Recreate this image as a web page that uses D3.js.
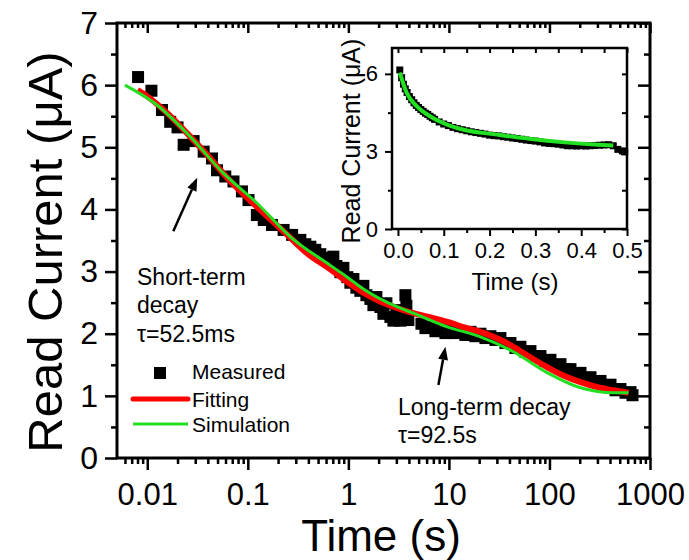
<!DOCTYPE html>
<html>
<head>
<meta charset="utf-8">
<script src="https://cdn.jsdelivr.net/npm/d3@7"></script>
<style>
  body { margin: 0; background: #fff; }
  svg text { font-family: "Liberation Sans", Arial, sans-serif; fill: #000; }
</style>
</head>
<body>
<div id="chart"></div>
<script>
// main panel, measured read current (time in s, current in uA)
var measuredT = [0.0081, 0.0110, 0.0140, 0.0169, 0.0200, 0.0230, 0.0289, 0.0364, 0.0440, 0.0494,
  0.0597, 0.0720, 0.0874, 0.1016, 0.123, 0.144, 0.174, 0.227, 0.276,
  0.333, 0.373, 0.419, 0.469, 0.526, 0.590, 0.662, 0.709, 0.760, 0.833,
  0.892, 0.977, 1.047, 1.122, 1.201, 1.316, 1.410, 1.511, 1.656, 1.774,
  1.900, 2.082, 2.230, 2.389, 2.618, 2.805, 3.004, 3.292, 3.526, 3.692, 3.777, 3.954,
  5.33, 5.84, 6.55, 7.34, 8.23, 9.23, 10.35, 11.61, 13.02, 14.60,
  16.37, 18.35, 20.58, 23.08, 25.88, 29.02, 32.54, 36.49, 40.92, 45.88,
  51.45, 57.70, 64.70, 72.55, 81.36, 91.24, 102.3, 114.7, 128.7, 144.3,
  161.8, 181.4, 203.5, 228.1, 255.9, 286.9, 321.7, 360.8, 404.6, 453.6,
  508.7, 570.5, 639.7, 669.9];
var measuredI = [6.13, 5.91, 5.60, 5.41, 5.32, 5.04, 5.10, 4.93, 4.82, 4.63,
  4.53, 4.45, 4.29, 4.15, 3.91, 3.83, 3.75, 3.67, 3.59,
  3.51, 3.44, 3.40, 3.35, 3.28, 3.22, 3.15, 3.24, 3.09, 2.99,
  3.06, 2.91, 2.82, 2.88, 2.74, 2.69, 2.77, 2.62, 2.56, 2.46,
  2.59, 2.43, 2.32, 2.49, 2.27, 2.21, 2.38, 2.21, 2.29, 2.62, 2.45, 2.22,
  2.16, 2.09, 2.11, 2.04, 2.08, 2.01, 2.06, 2.01, 2.04, 1.98,
  2.03, 1.96, 2.00, 1.93, 1.96, 1.90, 1.93, 1.85, 1.85, 1.77,
  1.79, 1.71, 1.72, 1.64, 1.64, 1.56, 1.58, 1.50, 1.51, 1.43,
  1.43, 1.35, 1.37, 1.29, 1.30, 1.22, 1.24, 1.16, 1.18, 1.09,
  1.11, 1.05, 1.06, 1.01];

// fitting curve (red)
var fitT = [0.008, 0.01, 0.0158, 0.0251, 0.0398, 0.0631, 0.1, 0.158, 0.251, 0.398,
  0.631, 1.0, 1.41, 2.0, 3.08, 4.43, 6.31, 9.66, 15.8, 20.6, 31.6,
  43.7, 63.1, 95.5, 141, 204, 316, 434, 611];
var fitI = [5.92, 5.82, 5.55, 5.22, 4.87, 4.50, 4.18, 3.88, 3.58, 3.28,
  3.06, 2.82, 2.66, 2.53, 2.41, 2.33, 2.27, 2.19, 2.08, 2.03, 1.91,
  1.79, 1.63, 1.46, 1.32, 1.22, 1.13, 1.09, 1.05];

// simulation curve (green)
var simT = [0.006, 0.0125, 0.0268, 0.0574, 0.1236, 0.265, 0.662, 0.977, 1.41, 3.07,
  4.43, 9.66, 20.6, 43.7, 95.5, 204, 300, 434, 611];
var simI = [6.00, 5.68, 5.17, 4.58, 4.10, 3.56, 3.10, 2.91, 2.72, 2.43,
  2.33, 2.11, 1.95, 1.71, 1.37, 1.13, 1.07, 1.05, 1.05];

// inset, linear time
var insetT = [0.004, 0.008, 0.012, 0.016, 0.02, 0.025, 0.03, 0.035, 0.04, 0.045,
  0.05, 0.055, 0.06, 0.065, 0.07, 0.075, 0.08, 0.09, 0.10, 0.11,
  0.12, 0.13, 0.14, 0.15, 0.16, 0.17, 0.18, 0.19, 0.20, 0.21,
  0.22, 0.23, 0.24, 0.25, 0.26, 0.27, 0.28, 0.29, 0.30, 0.31,
  0.32, 0.33, 0.34, 0.35, 0.36, 0.37, 0.38, 0.39, 0.40, 0.41,
  0.42, 0.43, 0.44, 0.45, 0.46, 0.47, 0.48, 0.49, 0.495];
var insetI = [6.15, 5.85, 5.60, 5.42, 5.28, 5.12, 5.00, 4.88, 4.78, 4.70,
  4.62, 4.55, 4.48, 4.43, 4.36, 4.30, 4.24, 4.14, 4.06, 4.00,
  3.93, 3.88, 3.84, 3.80, 3.76, 3.73, 3.70, 3.67, 3.63, 3.61,
  3.60, 3.57, 3.55, 3.52, 3.50, 3.47, 3.44, 3.42, 3.40, 3.37,
  3.33, 3.31, 3.30, 3.28, 3.25, 3.22, 3.22, 3.21, 3.22, 3.21,
  3.22, 3.23, 3.24, 3.25, 3.26, 3.22, 3.08, 3.02, 2.98];
var insetSimT = [0.004, 0.019, 0.041, 0.07, 0.107, 0.144, 0.217, 0.29, 0.364, 0.437, 0.47];
var insetSimI = [6.05, 5.27, 4.75, 4.36, 4.04, 3.84, 3.65, 3.48, 3.35, 3.26, 3.23];

// ticks
var majorX = [0.01, 0.1, 1, 10, 100, 1000];
var majorY = [0, 1, 2, 3, 4, 5, 6, 7];
var minorY = [0.5, 1.5, 2.5, 3.5, 4.5, 5.5, 6.5];
var insetMajorX = [0, 0.1, 0.2, 0.3, 0.4, 0.5];
var insetMinorX = [0.05, 0.15, 0.25, 0.35, 0.45];
var insetMajorY = [0, 3, 6];
var insetMinorY = [1.5, 4.5];

var red = "#ff0000", green = "#22e022";

var W = 689, H = 560;
var margin = { top: 23, right: 39, bottom: 102, left: 117 };
var width = W - margin.left - margin.right;
var height = H - margin.top - margin.bottom;

var svg = d3.select("#chart").append("svg")
  .attr("width", W)
  .attr("height", H);

var g = svg.append("g")
  .attr("transform", "translate(" + margin.left + "," + margin.top + ")");

var x = d3.scaleLog().domain([0.005, 1000]).range([0, width]);
var y = d3.scaleLinear().domain([0, 7]).range([height, 0]);

// log minor ticks
var minorX = [];
for (var d = -3; d <= 2; d++) {
  for (var k = 2; k <= 9; k++) {
    var v = k * Math.pow(10, d);
    if (v > 0.0051 && v < 1000) minorX.push(v);
  }
}

function tidy(sel, w) {
  sel.attr("font-family", null).attr("font-size", null);
  sel.select(".domain").remove();
  sel.selectAll("line").attr("stroke", "#000").attr("stroke-width", w);
}

// bottom axis
g.append("g")
  .attr("transform", "translate(0," + height + ")")
  .call(d3.axisBottom(x).tickValues(majorX).tickSize(12).tickPadding(13).tickFormat(d3.format("~g")))
  .call(tidy, 2.5)
  .selectAll("text").attr("font-size", 31);
g.append("g")
  .attr("transform", "translate(0," + height + ")")
  .call(d3.axisBottom(x).tickValues(minorX).tickSize(6).tickFormat(""))
  .call(tidy, 2.5);

// top axis, ticks inward
g.append("g")
  .call(d3.axisBottom(x).tickValues(majorX).tickSize(10).tickFormat(""))
  .call(tidy, 2.5);
g.append("g")
  .call(d3.axisBottom(x).tickValues(minorX).tickSize(5).tickFormat(""))
  .call(tidy, 2.5);

// left axis
g.append("g")
  .call(d3.axisLeft(y).tickValues(majorY).tickSize(12).tickPadding(7).tickFormat(d3.format("d")))
  .call(tidy, 2.5)
  .selectAll("text").attr("font-size", 32);
g.append("g")
  .call(d3.axisLeft(y).tickValues(minorY).tickSize(6).tickFormat(""))
  .call(tidy, 2.5);

// right axis, ticks inward
g.append("g")
  .attr("transform", "translate(" + width + ",0)")
  .call(d3.axisLeft(y).tickValues(majorY).tickSize(12).tickFormat(""))
  .call(tidy, 2.5);
g.append("g")
  .attr("transform", "translate(" + width + ",0)")
  .call(d3.axisLeft(y).tickValues(minorY).tickSize(6).tickFormat(""))
  .call(tidy, 2.5);

// measured squares
var measured = measuredT.map(function(t, i) { return [t, measuredI[i]]; });
g.append("g").selectAll("rect")
  .data(measured)
  .enter().append("rect")
  .attr("x", function(p) { return x(p[0]) - 6; })
  .attr("y", function(p) { return y(p[1]) - 6; })
  .attr("width", 12)
  .attr("height", 12)
  .attr("fill", "#000");

var line = d3.line()
  .curve(d3.curveMonotoneX)
  .x(function(p) { return x(p[0]); })
  .y(function(p) { return y(p[1]); });

g.append("path")
  .datum(fitT.map(function(t, i) { return [t, fitI[i]]; }))
  .attr("d", line)
  .attr("fill", "none")
  .attr("stroke", red)
  .attr("stroke-width", 6);

g.append("path")
  .datum(simT.map(function(t, i) { return [t, simI[i]]; }))
  .attr("d", line)
  .attr("fill", "none")
  .attr("stroke", green)
  .attr("stroke-width", 3);

// frame
g.append("rect")
  .attr("width", width)
  .attr("height", height)
  .attr("fill", "none")
  .attr("stroke", "#000")
  .attr("stroke-width", 3);

// axis titles
svg.append("text")
  .attr("transform", "translate(62,252) rotate(-90)")
  .attr("text-anchor", "middle")
  .attr("font-size", 49)
  .text("Read Current (\u03bcA)");

svg.append("text")
  .attr("x", 381)
  .attr("y", 551)
  .attr("text-anchor", "middle")
  .attr("font-size", 44)
  .text("Time (s)");

// annotations
function arrow(x1, y1, x2, y2) {
  var ang = Math.atan2(y2 - y1, x2 - x1);
  var len = 13, hw = 5;
  var bx = x2 - len * Math.cos(ang), by = y2 - len * Math.sin(ang);
  g.append("line")
    .attr("x1", x1).attr("y1", y1).attr("x2", bx).attr("y2", by)
    .attr("stroke", "#000").attr("stroke-width", 2.5);
  g.append("path")
    .attr("d", "M" + x2 + "," + y2 +
      "L" + (bx + hw * Math.sin(ang)) + "," + (by - hw * Math.cos(ang)) +
      "L" + (bx - hw * Math.sin(ang)) + "," + (by + hw * Math.cos(ang)) + "Z")
    .attr("fill", "#000");
}
arrow(x(0.01815), y(3.65), x(0.0314), y(4.51));
arrow(x(7.86), y(1.175), x(9.23), y(1.79));

var noteLeft = [["Short-term", 285], ["decay", 313], ["\u03c4=52.5ms", 342]];
noteLeft.forEach(function(n) {
  svg.append("text").attr("x", 137).attr("y", n[1]).attr("font-size", 23).text(n[0]);
});
var noteRight = [["Long-term decay", 415], ["\u03c4=92.5s", 443]];
noteRight.forEach(function(n) {
  svg.append("text").attr("x", 398).attr("y", n[1]).attr("font-size", 23).text(n[0]);
});

// legend
var lg = svg.append("g");
lg.append("rect").attr("x", 154).attr("y", 367).attr("width", 12).attr("height", 12).attr("fill", "#000");
lg.append("text").attr("x", 192).attr("y", 379).attr("font-size", 21).text("Measured");
lg.append("line").attr("x1", 133).attr("x2", 188).attr("y1", 399).attr("y2", 399)
  .attr("stroke", red).attr("stroke-width", 5).attr("stroke-linecap", "round");
lg.append("text").attr("x", 192).attr("y", 407).attr("font-size", 21).text("Fitting");
lg.append("line").attr("x1", 133).attr("x2", 188).attr("y1", 424).attr("y2", 424)
  .attr("stroke", green).attr("stroke-width", 3);
lg.append("text").attr("x", 192).attr("y", 432).attr("font-size", 21).text("Simulation");

// ---------------- inset ----------------
var inset = { left: 392, top: 48, width: 235, height: 181 };
var ig = svg.append("g")
  .attr("transform", "translate(" + inset.left + "," + inset.top + ")");
var ix = d3.scaleLinear().domain([-0.013, 0.5]).range([0, inset.width]);
var iy = d3.scaleLinear().domain([0, 7]).range([inset.height, 0]);

ig.append("rect").attr("width", inset.width).attr("height", inset.height).attr("fill", "#fff");

ig.append("g")
  .attr("transform", "translate(0," + inset.height + ")")
  .call(d3.axisBottom(ix).tickValues(insetMajorX).tickSize(7).tickPadding(6).tickFormat(d3.format(".1f")))
  .call(tidy, 2)
  .selectAll("text").attr("font-size", 22);
ig.append("g")
  .attr("transform", "translate(0," + inset.height + ")")
  .call(d3.axisBottom(ix).tickValues(insetMinorX).tickSize(4).tickFormat(""))
  .call(tidy, 2);
ig.append("g")
  .call(d3.axisBottom(ix).tickValues(insetMajorX.concat(insetMinorX)).tickSize(5).tickFormat(""))
  .call(tidy, 2);

ig.append("g")
  .call(d3.axisLeft(iy).tickValues(insetMajorY).tickSize(7).tickPadding(7).tickFormat(d3.format("d")))
  .call(tidy, 2)
  .selectAll("text").attr("font-size", 22);
ig.append("g")
  .call(d3.axisLeft(iy).tickValues(insetMinorY).tickSize(4).tickFormat(""))
  .call(tidy, 2);
ig.append("g")
  .attr("transform", "translate(" + inset.width + ",0)")
  .call(d3.axisLeft(iy).tickValues(insetMajorY.concat(insetMinorY)).tickSize(5).tickFormat(""))
  .call(tidy, 2);

ig.append("g").selectAll("rect")
  .data(insetT.map(function(t, i) { return [t, insetI[i]]; }))
  .enter().append("rect")
  .attr("x", function(p) { return ix(p[0]) - 3.5; })
  .attr("y", function(p) { return iy(p[1]) - 3.5; })
  .attr("width", 7)
  .attr("height", 7)
  .attr("fill", "#000");

var iline = d3.line()
  .curve(d3.curveMonotoneX)
  .x(function(p) { return ix(p[0]); })
  .y(function(p) { return iy(p[1]); });

ig.append("path")
  .datum(insetSimT.map(function(t, i) { return [t, insetSimI[i]]; }))
  .attr("d", iline)
  .attr("fill", "none")
  .attr("stroke", green)
  .attr("stroke-width", 4);

ig.append("rect")
  .attr("width", inset.width)
  .attr("height", inset.height)
  .attr("fill", "none")
  .attr("stroke", "#000")
  .attr("stroke-width", 2.5);

svg.append("text")
  .attr("transform", "translate(360,141) rotate(-90)")
  .attr("text-anchor", "middle")
  .attr("font-size", 25)
  .text("Read Current (\u03bcA)");

svg.append("text")
  .attr("x", 515)
  .attr("y", 290)
  .attr("text-anchor", "middle")
  .attr("font-size", 24)
  .text("Time (s)");
</script>
</body>
</html>
